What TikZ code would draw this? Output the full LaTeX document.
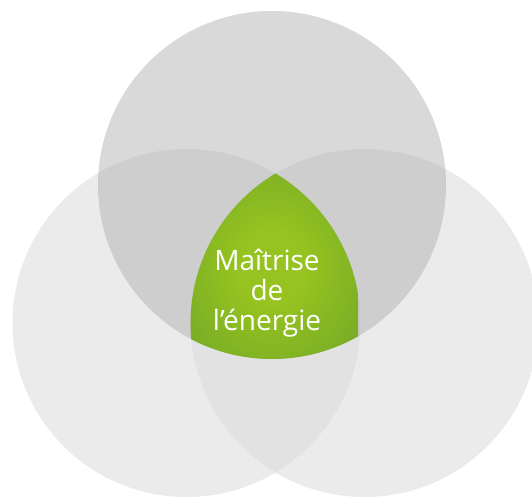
\documentclass[tikz,border=0pt]{standalone}
\usepackage{fontspec}
\setmainfont{Open Sans}

\definecolor{ringgray}{RGB}{219,219,219}
\definecolor{topgray}{RGB}{171,171,171}
\definecolor{greenin}{RGB}{150,195,32}
\definecolor{greenout}{RGB}{92,152,44}
\pgfdeclareradialshading{greenglow}{\pgfpoint{0bp}{0bp}}{color(0bp)=(greenin); color(10bp)=(greenin); color(50bp)=(greenout)}

\begin{document}
\begin{tikzpicture}[x=1pt, y=-1pt,
	side circle/.style={fill=ringgray, fill opacity=0.55},
	top circle/.style={fill=topgray, fill opacity=0.45},
	core text/.style={align=center, text=white, font=\fontsize{28}{30}\selectfont}]
	\useasboundingbox (0,0) rectangle (532,498);

	% Centres
	\coordinate (cleft) at (186.5,323);
	\coordinate (cright) at (364.5,323);
	\coordinate (ctop) at (272,185);

	% Side circles
	\fill[side circle] (cleft) circle (174);
	\fill[side circle] (cright) circle (174);

	% Top circle
	\fill[top circle] (ctop) circle (174);

	% Common part
	\begin{scope}
		\clip (cleft) circle (174);
		\clip (cright) circle (174);
		\clip (ctop) circle (174);
		\shade[shading=greenglow] (186,172) rectangle (358,362);
	\end{scope}

	% Label
	\node[core text] (core) at (267,293) {Maîtrise\\de\\l’énergie};
\end{tikzpicture}
\end{document}
